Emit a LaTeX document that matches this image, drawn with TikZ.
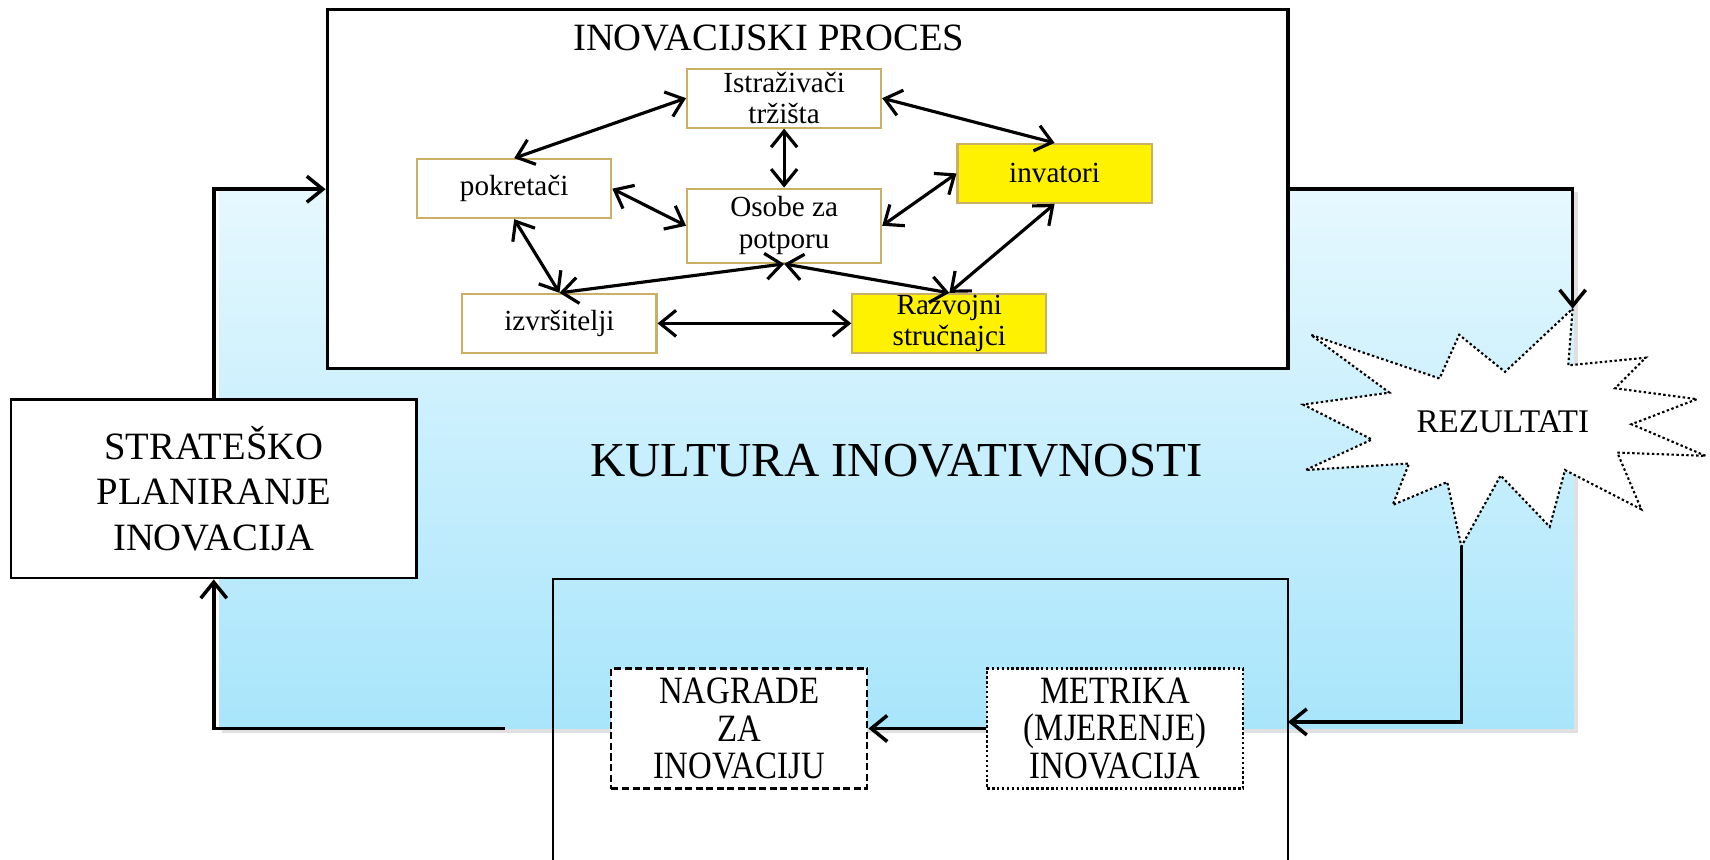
\documentclass[tikz,border=0pt]{standalone}
\usepackage{fontspec}
\setmainfont{Liberation Serif}
\newfontfamily\uskifont[FakeStretch=0.85]{Liberation Serif}
\usepackage{tikz}
\usetikzlibrary{arrows.meta}
\definecolor{zlato}{RGB}{201,176,100}
\definecolor{plavogore}{RGB}{230,248,254}
\definecolor{plavodolje}{RGB}{168,229,251}

\begin{document}
\begin{tikzpicture}[x=1.0906cm,y=-1.0906cm,>={Straight Barb[length=1.6mm,width=2.6mm]},
  osoba/.style={draw=zlato,line width=0.6pt,fill=white,minimum width=1.941cm,minimum height=0.589cm,inner sep=0pt,align=center,font=\fontsize{8.3}{9}\selectfont},
  veza/.style={line width=0.9pt,arrows=<->},
  tok/.style={line width=1pt,arrows=->},
  mjera/.style={fill=white,line width=0.6pt,minimum width=2.56cm,minimum height=1.2cm,inner sep=0pt,align=center,font=\uskifont\fontsize{11}{10.8}\selectfont}]
\useasboundingbox (0,0) rectangle (15.68,7.88);
\fill[black!12] (2.04,1.76) rectangle (14.465,6.72);
\shade[top color=plavogore,bottom color=plavodolje] (2.01,1.73) rectangle (14.43,6.68);
\draw[line width=0.5pt] (5.07,7.95) |- (11.81,5.31) -- (11.81,7.95);

\node[draw,line width=0.9pt,fill=white,minimum width=9.608cm,minimum height=3.588cm,inner sep=0pt] (inov) at (7.405,1.735) {};
\node[font=\fontsize{11}{12}\selectfont] (naslov) at (7.05,0.35) {INOVACIJSKI PROCES};
\node[osoba] (ist) at (7.19,0.90) {Istraživači\\tržišta};
\node[osoba] (pok) at (4.715,1.73) {pokretači};
\node[osoba,minimum height=0.742cm] (oso) at (7.19,2.07) {Osobe za\\potporu};
\node[osoba,fill=yellow] (inv) at (9.67,1.59) {invatori};
\node[osoba] (izv) at (5.13,2.965) {izvršitelji};
\node[osoba,fill=yellow] (raz) at (8.705,2.965) {Razvojni\\stručnajci};

\draw[veza] (pok.north) -- (ist.west);
\draw[veza] (ist.east) -- (inv.north);
\draw[veza] (ist.south) -- (oso.north);
\draw[veza] (pok.east) -- (oso.west);
\draw[veza] (oso.east) -- (inv.west);
\draw[veza] (pok.south) -- (izv.north);
\draw[veza] (oso.south) -- (izv.north);
\draw[veza] (oso.south) -- (raz.north);
\draw[veza] (inv.south) -- (raz.north);
\draw[veza] (izv.east) -- (raz.west);

\node[draw,line width=0.8pt,fill=white,minimum width=4.057cm,minimum height=1.789cm,inner sep=0pt,align=center,font=\fontsize{11}{13}\selectfont] (strat) at (1.96,4.48) {STRATEŠKO\\PLANIRANJE\\INOVACIJA};
\node[font=\fontsize{13.9}{16}\selectfont] (kultura) at (8.22,4.22) {KULTURA INOVATIVNOSTI};

\draw[fill=white,line width=0.6pt,dash pattern=on 0.7pt off 0.7pt] (14.42,2.83) -- (14.38,3.35) -- (15.09,3.28) -- (14.81,3.56) -- (15.56,3.66) -- (14.96,3.89) -- (15.64,4.18) -- (14.83,4.15) -- (15.05,4.67) -- (14.35,4.31) -- (14.21,4.83) -- (13.76,4.36) -- (13.40,5.01) -- (13.27,4.42) -- (12.77,4.63) -- (12.92,4.25) -- (11.97,4.31) -- (12.58,4.03) -- (11.95,3.71) -- (12.74,3.60) -- (12.02,3.07) -- (13.20,3.47) -- (13.38,3.07) -- (13.80,3.41) -- cycle;
\coordinate (reztop) at (14.42,2.83);
\coordinate (rezbot) at (13.40,5.01);
\node[font=\fontsize{9.4}{11}\selectfont] (rez) at (13.78,3.87) {REZULTATI};

\node[mjera,draw,dash pattern=on 2pt off 1pt] (nagr) at (6.78,6.68) {NAGRADE\\ZA\\INOVACIJU};
\node[mjera,draw,dash pattern=on 0.7pt off 0.7pt] (metr) at (10.225,6.68) {METRIKA\\(MJERENJE)\\INOVACIJA};
\coordinate (donji) at (11.81,6.62);
\coordinate (lijevo) at (4.63,6.68);

\draw[tok] (strat.north) |- (inov.west);
\draw[tok] (inov.east) -| (reztop);
\draw[tok] (rezbot) |- (donji);
\draw[tok] (metr.west) -- (nagr.east);
\draw[tok] (lijevo) -| (strat.south);
\end{tikzpicture}
\end{document}
